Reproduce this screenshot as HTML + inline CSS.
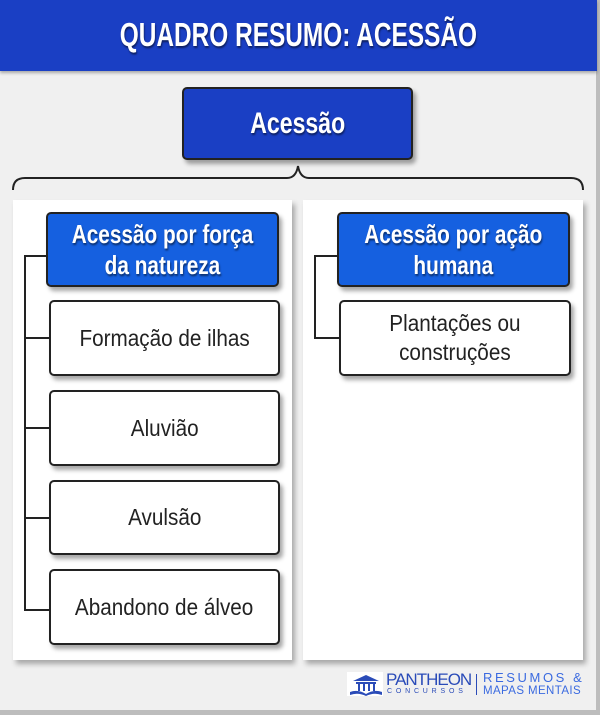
<!DOCTYPE html>
<html><head><meta charset="utf-8"><style>
*{margin:0;padding:0;box-sizing:border-box}
body{width:600px;height:715px;background:#f0f0f0;position:relative;overflow:hidden;font-family:"Liberation Sans",sans-serif}
.edge{position:absolute;left:596px;top:0;width:4px;height:715px;background:#bdbdbd}
.edgeb{position:absolute;left:0;top:710px;width:600px;height:5px;background:#bdbdbd}
.hdr{position:absolute;left:0;top:0;width:597px;height:71px;background:#1a3fc4;box-shadow:0 2px 3px rgba(0,0,0,.3);color:#fff;font-weight:bold;font-size:33px;text-align:center;line-height:70px;text-shadow:1px 2px 2px rgba(0,0,0,.5)}
.c{display:inline-block;white-space:nowrap}
.box{position:absolute;border:2px solid #222;border-radius:5px;display:flex;align-items:center;justify-content:center;text-align:center;box-shadow:3px 4px 4px rgba(0,0,0,.35)}
.blue{color:#fff;font-weight:bold;text-shadow:1px 2px 2px rgba(0,0,0,.5)}
.sub{background:#1560e0;font-size:26px;line-height:31px}
.w{background:#fff;color:#222;font-size:23px;line-height:29px}
.panel{position:absolute;background:#fff;box-shadow:3px 4px 5px rgba(0,0,0,.3)}
.ln{position:absolute;background:#222}
</style></head><body>
<div class="edge"></div><div class="edgeb"></div>
<div class="hdr"><span class="c" style="transform:scaleX(.74)">QUADRO RESUMO: ACESSÃO</span></div>
<div class="box blue" style="left:182px;top:87px;width:231px;height:73px;background:#1a3fc4;font-size:30px"><span class="c" style="transform:scaleX(.77)">Acessão</span></div>
<svg style="position:absolute;left:0;top:0" width="600" height="715"><path d="M13 190 Q13 178 25 178 L287 178 Q296 178 298 166 Q300 178 309 178 L571 178 Q583 178 583 190" fill="none" stroke="#222" stroke-width="2"/></svg>
<div class="panel" style="left:13px;top:200px;width:279px;height:460px"></div>
<div class="panel" style="left:303px;top:200px;width:280px;height:460px"></div>
<div class="ln" style="left:24px;top:255px;width:2px;height:356px"></div>
<div class="ln" style="left:24px;top:255px;width:24px;height:2px"></div>
<div class="ln" style="left:24px;top:337px;width:26px;height:2px"></div>
<div class="ln" style="left:24px;top:427px;width:26px;height:2px"></div>
<div class="ln" style="left:24px;top:517px;width:26px;height:2px"></div>
<div class="ln" style="left:24px;top:609px;width:26px;height:2px"></div>
<div class="ln" style="left:314px;top:255px;width:2px;height:84px"></div>
<div class="ln" style="left:314px;top:255px;width:24px;height:2px"></div>
<div class="ln" style="left:314px;top:337px;width:26px;height:2px"></div>
<div class="box blue sub" style="left:46px;top:212px;width:233px;height:75px"><span class="c" style="transform:scaleX(.8)">Acessão por força<br>da natureza</span></div>
<div class="box blue sub" style="left:337px;top:212px;width:233px;height:75px"><span class="c" style="transform:scaleX(.8)">Acessão por ação<br>humana</span></div>
<div class="box w" style="left:49px;top:300px;width:231px;height:76px"><span class="c" style="transform:scaleX(.9)">Formação de ilhas</span></div>
<div class="box w" style="left:49px;top:390px;width:231px;height:76px"><span class="c" style="transform:scaleX(.9)">Aluvião</span></div>
<div class="box w" style="left:49px;top:480px;width:231px;height:75px"><span class="c" style="transform:scaleX(.9)">Avulsão</span></div>
<div class="box w" style="left:49px;top:569px;width:231px;height:76px"><span class="c" style="transform:scaleX(.9)">Abandono de álveo</span></div>
<div class="box w" style="left:339px;top:300px;width:232px;height:76px"><span class="c" style="transform:scaleX(.9)">Plantações ou<br>construções</span></div>
<div style="position:absolute;left:347px;top:672px;width:36px;height:24px;background:#fff"></div>
<svg style="position:absolute;left:349px;top:674px" width="34" height="22"><path d="M17 1 L30 7 L4 7 Z M7 8h20v2H7z M9 10h2v7H9z M14 10h2v7h-2z M19 10h2v7h-2z M24 10h2v7h-2z M1 18 Q9 15 17 20 Q25 15 33 18 L33 21 Q25 18 17 22 Q9 18 1 21Z" fill="#2a4bb8"/></svg>
<div style="position:absolute;left:386px;top:671px;color:#2a4bb8;font-size:17px;line-height:18px;letter-spacing:-1px">PANTHEON</div>
<div style="position:absolute;left:387px;top:688px;color:#2a4bb8;font-size:7px;letter-spacing:3.8px">CONCURSOS</div>
<div style="position:absolute;left:476px;top:674px;width:1px;height:21px;background:#2a4bb8"></div>
<div style="position:absolute;left:483px;top:671px;color:#3a6ae0;font-size:13px;line-height:13px;letter-spacing:2.6px">RESUMOS &amp;</div>
<div style="position:absolute;left:483px;top:685px;color:#3a6ae0;font-size:11.5px;line-height:12px;letter-spacing:0.4px">MAPAS MENTAIS</div>
</body></html>
